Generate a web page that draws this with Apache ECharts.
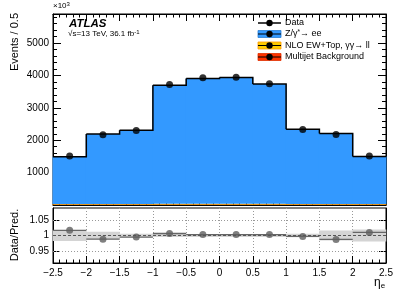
<!DOCTYPE html>
<html><head><meta charset="utf-8">
<script src="https://cdn.jsdelivr.net/npm/echarts@6/dist/echarts.min.js"></script>
<style>html,body{margin:0;padding:0;background:#fff}#c{width:411px;height:297px}</style>
</head><body><div id="c"></div>
<script>
// ---- data ----
const binEdges = [-2.5, -2, -1.5, -1, -0.5, 0, 0.5, 1, 1.5, 2, 2.5];
const binCenters = [-2.25, -1.75, -1.25, -0.75, -0.25, 0.25, 0.75, 1.25, 1.75, 2.25];
const dataValues = [1517, 2167, 2300, 3725, 3930, 3950, 3746, 2331, 2176, 1517];
const zeeValues = [1462, 2165, 2280, 3664, 3874, 3899, 3699, 2310, 2175, 1472];
const ewTopValues = [14, 15, 15, 18, 18, 18, 18, 15, 15, 14];
const multijetValues = [14, 15, 15, 18, 18, 18, 18, 15, 15, 14];
const ratioValues = [1.017, 0.988, 0.995, 1.0065, 1.003, 1.003, 1.003, 0.997, 0.987, 1.01];
const ratioBandHalf = [0.018, 0.012, 0.006, 0.005, 0.005, 0.005, 0.005, 0.006, 0.016, 0.02];
const mainYTickLabels = [1000, 2000, 3000, 4000, 5000];
const ratioYTickLabels = [0.95, 1, 1.05];
const ratioRefLines = [0.95, 1, 1.05];
const xTickLabels = [-2.5, -2, -1.5, -1, -0.5, 0, 0.5, 1, 1.5, 2, 2.5];
const legendLabels = ['Data', 'Z/γ*→ ee', 'NLO EW+Top, γγ→ ll', 'Multijet Background'];

// ---- styles ----
const FONT = 'Liberation Sans';
const C_Z = '#3399ff', C_EW = '#ffcc00', C_MJ = '#ff3300';

const chart = echarts.init(document.getElementById('c'), null, {renderer: 'canvas'});

const mainX = {min: -2.5, max: 2.5, interval: 0.5};
function xAx(gridIndex, position, labels, split) {
  return Object.assign({
    type: 'value', gridIndex, position,
    axisLine: {show: true, onZero: false, lineStyle: {color: '#000', width: 1}},
    axisTick: {show: true, inside: true, length: 7, lineStyle: {color: '#000'}},
    minorTick: {show: true, splitNumber: 5, length: 3.5, lineStyle: {color: '#000'}},
    axisLabel: labels ? {show: true, fontFamily: FONT, fontSize: 10, color: '#000', margin: 5,
      formatter: v => xTickLabels.indexOf(Math.round(v * 10) / 10) >= 0 ? String(Math.round(v * 10) / 10).replace('-', '−') : ''} : {show: false},
    splitLine: split ? {show: true, lineStyle: {color: '#999', type: [1, 2], width: 1}} : {show: false},
    minorSplitLine: {show: false}
  }, mainX);
}
function yAx(gridIndex, position, min, max, interval, len, labels, line) {
  return {
    type: 'value', gridIndex, position, min, max, interval,
    axisLine: {show: line, onZero: false, lineStyle: {color: '#000'}},
    axisTick: {show: true, inside: true, length: len, lineStyle: {color: '#000'}},
    axisLabel: labels ? {show: true, fontFamily: FONT, fontSize: 10, color: '#000', margin: 4, showMinLabel: false,
      formatter: v => mainYTickLabels.indexOf(Math.round(v)) >= 0 ? String(Math.round(v)) : ''} : {show: false},
    splitLine: {show: false}
  };
}
function ratioY(position, labels) {
  return {
    type: 'value', gridIndex: 1, position, min: 0.91, max: 1.09,
    axisLine: {show: true, onZero: false, lineStyle: {color: '#000'}},
    axisTick: {show: true, inside: true, length: 7, customValues: ratioYTickLabels, lineStyle: {color: '#000'}},
    axisLabel: labels ? {show: true, fontFamily: FONT, fontSize: 10, color: '#000', margin: 4,
      customValues: ratioYTickLabels, formatter: v => String(+v.toFixed(2))} : {show: false},
    splitLine: {show: false}
  };
}

function stackRect(comp, lowers, color) {
  return {
    type: 'custom', xAxisIndex: 0, yAxisIndex: 0, z: 2,
    data: comp.map((v, i) => [binCenters[i], v]),
    renderItem: (params, api) => {
      const i = params.dataIndex;
      let low = 0;
      lowers.forEach(a => low += a[i]);
      const p0 = api.coord([binEdges[i], low + comp[i]]);
      const p1 = api.coord([binEdges[i + 1], low]);
      return {type: 'rect', shape: {x: p0[0] - 0.5, y: p0[1], width: p1[0] - p0[0] + 1, height: p1[1] - p0[1]},
        style: {fill: color, stroke: null}};
    }
  };
}
function totalAt(i) { return zeeValues[i] + ewTopValues[i] + multijetValues[i]; }

const option = {
  animation: false,
  backgroundColor: '#fff',
  grid: [
    {left: 53, right: 25, top: 14, height: 191, show: true, borderColor: '#000', borderWidth: 1, backgroundColor: 'transparent'},
    {left: 53, right: 25, top: 208, height: 55, show: true, borderColor: '#000', borderWidth: 1, backgroundColor: 'transparent'}
  ],
  xAxis: [xAx(0, 'bottom', false, false), xAx(0, 'top', false, false), xAx(1, 'bottom', true, true)],
  yAxis: [
    yAx(0, 'left', 0, 5900, 1000, 8, true, true),
    yAx(0, 'left', 0, 5900, 200, 4, false, false),
    yAx(0, 'right', 0, 5900, 1000, 8, false, true),
    yAx(0, 'right', 0, 5900, 200, 4, false, false),
    ratioY('left', true),
    ratioY('right', false)
  ],
  series: [
    stackRect(multijetValues, [], C_MJ),
    stackRect(ewTopValues, [multijetValues], C_EW),
    stackRect(zeeValues, [multijetValues, ewTopValues], C_Z),
    {
      type: 'custom', xAxisIndex: 0, yAxisIndex: 0, z: 3,
      data: binCenters.map((c, i) => [c, totalAt(i)]),
      renderItem: (params, api) => {
        const i = params.dataIndex;
        const a = api.coord([binEdges[i], totalAt(i)]);
        const b = api.coord([binEdges[i + 1], totalAt(i)]);
        const pts = [a, b];
        if (i < binCenters.length - 1) pts.push(api.coord([binEdges[i + 1], totalAt(i + 1)]));
        return {type: 'polyline', shape: {points: pts}, style: {stroke: '#000', lineWidth: 1.5, fill: null}};
      }
    },
    {
      type: 'scatter', xAxisIndex: 0, yAxisIndex: 0, z: 5,
      symbol: 'circle', symbolSize: 7, itemStyle: {color: '#000'},
      data: binCenters.map((c, i) => [c, dataValues[i]])
    },
    {
      type: 'custom', xAxisIndex: 2, yAxisIndex: 4, z: 1,
      data: binCenters.map((c, i) => [c, 1]),
      renderItem: (params, api) => {
        const i = params.dataIndex;
        const p0 = api.coord([binEdges[i], 1 + ratioBandHalf[i]]);
        const p1 = api.coord([binEdges[i + 1], 1 - ratioBandHalf[i]]);
        return {type: 'rect', shape: {x: p0[0] - 0.3, y: p0[1], width: p1[0] - p0[0] + 0.6, height: p1[1] - p0[1]},
          style: {fill: '#d4d4d4'}};
      }
    },
    {
      type: 'line', xAxisIndex: 2, yAxisIndex: 4, data: [], z: 2,
      markLine: {
        silent: true, symbol: 'none', label: {show: false},
        data: ratioRefLines.map(v => ({yAxis: v, lineStyle: v === 1 ? {color: '#555', type: [3, 2], width: 1} : {color: '#999', type: [1, 2], width: 1}}))
      }
    },
    {
      type: 'custom', xAxisIndex: 2, yAxisIndex: 4, z: 3,
      data: binCenters.map((c, i) => [c, ratioValues[i]]),
      renderItem: (params, api) => {
        const i = params.dataIndex;
        const a = api.coord([binEdges[i], ratioValues[i]]);
        const b = api.coord([binEdges[i + 1], ratioValues[i]]);
        return {type: 'line', shape: {x1: a[0], y1: a[1], x2: b[0], y2: b[1]}, style: {stroke: '#666', lineWidth: 1.3}};
      }
    },
    {
      type: 'scatter', xAxisIndex: 2, yAxisIndex: 4, z: 4,
      symbol: 'circle', symbolSize: 7, itemStyle: {color: '#5f5f5f'},
      data: binCenters.map((c, i) => [c, ratioValues[i]])
    }
  ],
  graphic: [
    {type: 'text', left: 53, top: 1, style: {rich: {a: {fontFamily: FONT, fontSize: 8, fill: '#000'}, s: {fontFamily: FONT, fontSize: 6, fill: '#000', verticalAlign: 'top', padding: [0,0,4,0]}},
      text: '{a|×10}{s|3}'}},
    {type: 'text', x: 69, y: 24, style: {text: 'ATLAS', fontFamily: FONT, fontSize: 11.5, fontWeight: 'bold', fontStyle: 'italic', fill: '#000', textVerticalAlign: 'middle'}},
    {type: 'text', x: 68, y: 34, style: {rich: {a: {fontFamily: FONT, fontSize: 8, fill: '#000'}, s: {fontFamily: FONT, fontSize: 6, fill: '#000', padding: [0,0,4,0]}},
      text: '{a|√s=13 TeV, 36.1 fb}{s|-1}', textVerticalAlign: 'middle'}},
    {type: 'text', x: 15, y: 13, rotation: Math.PI / 2, style: {text: 'Events / 0.5', fontFamily: FONT, fontSize: 11, fill: '#000', textAlign: 'right', textVerticalAlign: 'middle'}},
    {type: 'text', x: 15, y: 235, rotation: Math.PI / 2, style: {text: 'Data/Pred.', fontFamily: FONT, fontSize: 11, fill: '#000', textAlign: 'center', textVerticalAlign: 'middle'}},
    {type: 'text', x: 374, y: 283, style: {rich: {a: {fontFamily: FONT, fontSize: 12, fill: '#000'}, s: {fontFamily: FONT, fontSize: 8, fill: '#000', padding: [6,0,0,0]}},
      text: '{a|η}{s|e}', textVerticalAlign: 'middle'}},
    // legend
    {type: 'line', shape: {x1: 258, y1: 23, x2: 281, y2: 23}, style: {stroke: '#000', lineWidth: 1.5}},
    {type: 'circle', shape: {cx: 269.5, cy: 23, r: 3.2}, style: {fill: '#000'}},
    {type: 'text', x: 285, y: 23, style: {text: legendLabels[0], fontFamily: FONT, fontSize: 9, fill: '#000', textVerticalAlign: 'middle'}},

    {type: 'rect', shape: {x: 258, y: 30.5, width: 23, height: 7}, style: {fill: C_Z, stroke: '#2a7fd4', lineWidth: 0.8}},
    {type: 'line', shape: {x1: 258, y1: 34, x2: 281, y2: 34}, style: {stroke: '#000', lineWidth: 1}},
    {type: 'circle', shape: {cx: 269.5, cy: 34, r: 3.2}, style: {fill: '#000'}},
    {type: 'text', x: 285, y: 34, style: {rich: {a: {fontFamily: FONT, fontSize: 9, fill: '#000'}, s: {fontFamily: FONT, fontSize: 6.5, fill: '#000', padding: [0,0,4,0]}},
      text: '{a|Z/γ}{s|*}{a|→ ee}', textVerticalAlign: 'middle'}},

    {type: 'rect', shape: {x: 258, y: 42, width: 23, height: 7}, style: {fill: C_EW, stroke: '#ff9900', lineWidth: 0.8}},
    {type: 'line', shape: {x1: 258, y1: 45.5, x2: 281, y2: 45.5}, style: {stroke: '#000', lineWidth: 1}},
    {type: 'circle', shape: {cx: 269.5, cy: 45.5, r: 3.2}, style: {fill: '#000'}},
    {type: 'text', x: 285, y: 45.5, style: {text: legendLabels[2], fontFamily: FONT, fontSize: 9, fill: '#000', textVerticalAlign: 'middle'}},

    {type: 'rect', shape: {x: 258, y: 53.5, width: 23, height: 7}, style: {fill: C_MJ, stroke: '#e03000', lineWidth: 0.8}},
    {type: 'line', shape: {x1: 258, y1: 57, x2: 281, y2: 57}, style: {stroke: '#000', lineWidth: 1}},
    {type: 'circle', shape: {cx: 269.5, cy: 57, r: 3.2}, style: {fill: '#000'}},
    {type: 'text', x: 285, y: 57, style: {text: legendLabels[3], fontFamily: FONT, fontSize: 9, fill: '#000', textVerticalAlign: 'middle'}}
  ]
};
chart.setOption(option);
</script>
</body></html>
